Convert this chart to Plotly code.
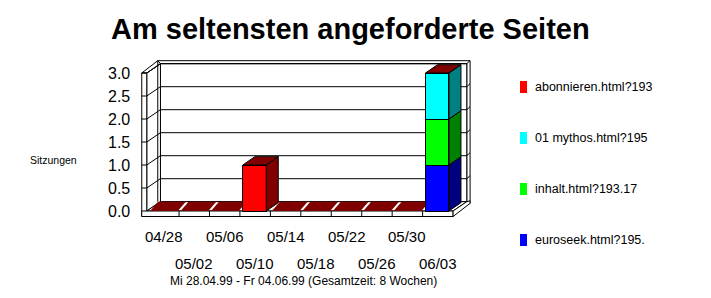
import plotly.graph_objects as go

# ---------------- data ----------------
categories = ["04/28", "05/02", "05/06", "05/10", "05/14",
              "05/18", "05/22", "05/26", "05/30", "06/03"]
abonnieren = [0, 0, 0, 1, 0, 0, 0, 0, 0, 0]
mythos = [0, 0, 0, 0, 0, 0, 0, 0, 0, 1]
inhalt = [0, 0, 0, 0, 0, 0, 0, 0, 0, 1]
euroseek = [0, 0, 0, 0, 0, 0, 0, 0, 0, 1]
series_names = ["abonnieren.html?193", "01 mythos.html?195",
                "inhalt.html?193.17", "euroseek.html?195."]
y_ticks = [0.0, 0.5, 1.0, 1.5, 2.0, 2.5, 3.0]
title_text = "Am seltensten angeforderte Seiten"
y_title = "Sitzungen"
footnote = "Mi 28.04.99 - Fr 04.06.99 (Gesamtzeit: 8 Wochen)"

# legend order (top -> bottom); stacked bottom -> top is the reverse
series_values = [abonnieren, mythos, inhalt, euroseek]
face_colors = ["#ff0000", "#00ffff", "#00ff00", "#0000ff"]
dark_colors = ["#800000", "#008080", "#008000", "#000080"]

# ---------------- geometry (style) ----------------
W, H = 711, 298
PXU, PXV = 30.45, 46.0         # pixels per category / per value unit
X0PX, Y0PX = 163.8, 211.0      # pixel of category 0 centre / value 0 (front)
FONT = "Liberation Sans, Arial, sans-serif"

DXB, DYB = 13.7 / PXU, 9.3 / PXV       # depth of the box
DXBAR, DYBAR = 12.0 / PXU, 8.3 / PXV   # depth of the bars
DXS, DYS = 8.0 / PXU, 9.3 / PXV        # depth of the zero slabs
XL_IN = -0.56
XL_OUT = XL_IN - 5.0 / PXU
XR = len(categories) - 0.5
FT = 5.5 / PXV          # floor thickness
TT = 3.0 / PXV          # back wall top thickness
RT = 3.3 / PXU          # back wall right thickness
BAR_OFF, BAR_W = -0.405, 0.77
VMAX = max(y_ticks)

shapes = []


def seg(x0, y0, x1, y1):
    shapes.append(dict(type="line", xref="x", yref="y", x0=x0, y0=y0,
                       x1=x1, y1=y1, layer="below",
                       line=dict(color="black", width=1)))


def poly(pts, fill, lw=1):
    path = "M " + " L ".join(f"{x:.4f},{y:.4f}" for x, y in pts) + " Z"
    shapes.append(dict(type="path", xref="x", yref="y", path=path,
                       fillcolor=fill, layer="below",
                       line=dict(color="black", width=lw)))


# back wall outer rim (top and right thickness)
poly([(XL_IN + DXB - 2.7 / PXU, VMAX + DYB + TT),
      (XR + DXB + RT, VMAX + DYB + TT),
      (XR + DXB + RT, DYB - FT * 0.3),
      (XR + DXB, DYB),
      (XR + DXB, VMAX + DYB),
      (XL_IN + DXB, VMAX + DYB)], "white")
# back wall
poly([(XL_IN + DXB, DYB), (XR + DXB, DYB),
      (XR + DXB, VMAX + DYB), (XL_IN + DXB, VMAX + DYB)], "white")
# left wall inner face
poly([(XL_IN, 0), (XL_IN + DXB, DYB), (XL_IN + DXB, VMAX + DYB),
      (XL_IN, VMAX)], "white")
# left wall top
poly([(XL_OUT, VMAX), (XL_IN, VMAX), (XL_IN + DXB, VMAX + DYB),
      (XL_IN + DXB - 2.7 / PXU, VMAX + DYB + TT)], "white")
# left wall front strip
poly([(XL_OUT, -FT), (XL_IN, -FT), (XL_IN, VMAX), (XL_OUT, VMAX)], "white")
seg(XL_IN + DXB - 2.7 / PXU, DYB, XL_IN + DXB - 2.7 / PXU, VMAX + DYB + TT)
# floor top, front, right side
poly([(XL_IN, 0), (XR, 0), (XR + DXB, DYB), (XL_IN + DXB, DYB)], "white")
poly([(XL_OUT, -FT), (XR, -FT), (XR, 0), (XL_OUT, 0)], "white")
poly([(XR, -FT), (XR + DXB + RT, DYB - FT * 0.3), (XR + DXB + RT, DYB + TT * 0.3),
      (XR + DXB, DYB), (XR, 0)], "white")
for i in range(len(categories) - 1):
    seg(i + 0.5, -FT, i + 0.5, 0)
# grid lines at the tick levels
for t in y_ticks:
    if t == 0:
        continue
    seg(XL_OUT, t, XL_IN, t)
    seg(XL_IN, t, XL_IN + DXB, t + DYB)
    seg(XL_IN + DXB, t + DYB, XR + DXB, t + DYB)
    seg(XR + DXB, t + DYB, XR + DXB + RT, t + DYB + TT)

traces = []
# zero slabs on the floor
totals = [sum(s[i] for s in series_values) for i in range(len(categories))]
for i, tot in enumerate(totals):
    if tot == 0:
        poly([(i - 0.45, 0), (i + 0.46, 0), (i + 0.46 + DXS, DYS),
              (i - 0.45 + DXS, DYS)], dark_colors[0], lw=0)

# front faces (stacked bars, bottom series first)
stack_order = list(range(len(series_values)))[::-1]
for k in stack_order:
    vals = series_values[k]
    traces.append(go.Bar(
        x=list(range(len(categories))),
        y=[v if v else None for v in vals],
        width=BAR_W, offset=BAR_OFF,
        marker=dict(color=face_colors[k], line=dict(color="black", width=1)),
        showlegend=False, hoverinfo="skip", name=series_names[k]))


def fill_poly(pts, color):
    xs = [p[0] for p in pts] + [pts[0][0]]
    ys = [p[1] for p in pts] + [pts[0][1]]
    traces.append(go.Scatter(x=xs, y=ys, mode="lines", fill="toself",
                             fillcolor=color,
                             line=dict(color="black", width=1),
                             showlegend=False, hoverinfo="skip"))


# side faces and top faces
for i in range(len(categories)):
    xl = i + BAR_OFF
    xr = xl + BAR_W
    base = 0
    for k in stack_order:
        v = series_values[k][i]
        if v:
            fill_poly([(xr, base), (xr + DXBAR, base + DYBAR),
                       (xr + DXBAR, base + v + DYBAR), (xr, base + v)],
                      dark_colors[k])
            base += v
    if base > 0:
        fill_poly([(xl, base), (xr, base), (xr + DXBAR, base + DYBAR),
                   (xl + DXBAR, base + DYBAR)], dark_colors[0])

annotations = []
annotations.append(dict(text=title_text, xref="paper", yref="paper",
                        x=350 / W, y=1 - 28.5 / H, showarrow=False,
                        xanchor="center", yanchor="middle",
                        font=dict(family=FONT, size=29, color="black",
                                  weight="bold")))
x_lab = (131.7 - X0PX) / PXU
for t in y_ticks:
    annotations.append(dict(text=f"{t:.1f}", xref="x", yref="y",
                            x=x_lab, y=t, showarrow=False, xanchor="right",
                            yanchor="middle",
                            font=dict(family=FONT, size=16, color="black")))
row_y = [(Y0PX - 236) / PXV, (Y0PX - 263) / PXV]
for i, c in enumerate(categories):
    annotations.append(dict(text=c, xref="x", yref="y", x=i, y=row_y[i % 2],
                            showarrow=False, xanchor="center",
                            yanchor="middle",
                            font=dict(family=FONT, size=15, color="black")))
annotations.append(dict(text=y_title, xref="paper", yref="paper",
                        x=53 / W, y=1 - 160 / H, showarrow=False,
                        xanchor="center", yanchor="middle",
                        font=dict(family=FONT, size=10.5, color="black")))
annotations.append(dict(text=footnote, xref="paper", yref="paper",
                        x=303 / W, y=1 - 281 / H, showarrow=False,
                        xanchor="center", yanchor="middle",
                        font=dict(family=FONT, size=12, color="black")))
# legend
for k, name in enumerate(series_names):
    yc = 87 + 51 * k
    shapes.append(dict(type="rect", xref="paper", yref="paper",
                       x0=520 / W, x1=527 / W,
                       y0=1 - (yc - 6) / H, y1=1 - (yc + 6) / H,
                       fillcolor=face_colors[k], line=dict(width=0)))
    annotations.append(dict(text=name, xref="paper", yref="paper",
                            x=533 / W, y=1 - yc / H, showarrow=False,
                            xanchor="left", yanchor="middle",
                            font=dict(family=FONT, size=12.5, color="black")))

fig = go.Figure(traces)
fig.update_layout(
    width=W, height=H, autosize=False,
    margin=dict(l=0, r=0, t=0, b=0, pad=0),
    paper_bgcolor="white", plot_bgcolor="white",
    barmode="stack", showlegend=False,
    xaxis=dict(range=[-X0PX / PXU, (W - X0PX) / PXU], visible=False,
               fixedrange=True),
    yaxis=dict(range=[(Y0PX - H) / PXV, Y0PX / PXV], visible=False,
               fixedrange=True),
    shapes=shapes, annotations=annotations,
)
fig.write_html("out.html", config={"displayModeBar": False})
